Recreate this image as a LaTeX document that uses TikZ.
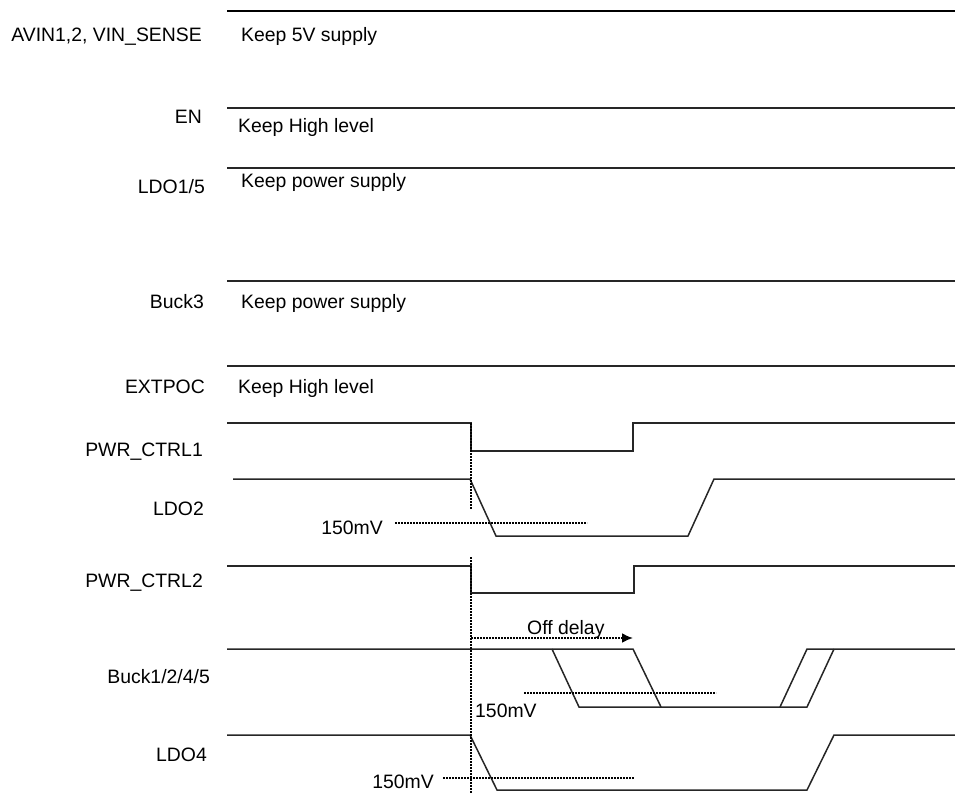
\documentclass[tikz,border=0pt]{standalone}
\usepackage{fontspec}
\setmainfont{Liberation Sans}
\usetikzlibrary{arrows.meta}

\begin{document}
\begin{tikzpicture}[x=1pt,y=-1pt,>={Latex[length=11pt,width=10pt]},
  font=\fontsize{19.4}{23}\selectfont,
  wave/.style={line width=1.5pt,black!85},
  thresh/.style={line width=2pt,dash pattern=on 2pt off 1pt},
  sig/.style={anchor=base east,inner sep=0pt},
  note/.style={anchor=base west,inner sep=0pt}]
 \useasboundingbox (0,0) rectangle (955,793);
 % rails that stay on
 \draw[line width=2.4pt] (227,11)--(955,11);
 \draw[wave] (227,108)--(955,108);
 \draw[wave] (227,168)--(955,168);
 \draw[wave] (227,281)--(955,281);
 \draw[wave] (227,366)--(955,366);
 % signal names
 \node[sig] (nAvin) at (202,41) {AVIN1,2, VIN\_SENSE};
 \node[sig] (nEn) at (202,123) {EN};
 \node[sig] (nLdoA) at (205,193) {LDO1/5};
 \node[sig] (nBuckC) at (204,308) {Buck3};
 \node[sig] (nExt) at (205,393) {EXTPOC};
 \node[sig] (nPwrA) at (203,456) {PWR\_CTRL1};
 \node[sig] (nLdoB) at (204,515) {LDO2};
 \node[sig] (nPwrB) at (203,587) {PWR\_CTRL2};
 \node[sig] (nBuck) at (210,683) {Buck1/2/4/5};
 \node[sig] (nLdoD) at (207,761) {LDO4};
 % notes on the rails
 \node[note] (kAvin) at (241,41) {Keep 5V supply};
 \node[note] (kEn) at (238,132) {Keep High level};
 \node[note] (kLdoA) at (241,187) {Keep power supply};
 \node[note] (kBuckC) at (241,308) {Keep power supply};
 \node[note] (kExt) at (238,393) {Keep High level};
 % PWR_CTRL1 and LDO2
 \draw[wave] (227,423)--(471,423)--(471,451)--(633,451)--(633,423)--(955,423);
 \draw[wave] (233,479)--(470,479)--(496,536)--(688,536)--(714,479)--(955,479);
 \draw[thresh] (395,523)--(587,523);
 \node[sig] (mLdoB) at (383,534) {150mV};
 % PWR_CTRL2
 \draw[wave] (227,566)--(471,566)--(471,593)--(634,593)--(634,566)--(955,566);
 % Buck1/2/4/5, two possible edges
 \draw[wave] (227,649)--(633,649)--(661,707);
 \draw[wave] (552,649)--(579,707)--(807,707)--(834,649);
 \draw[wave] (780,707)--(807,649)--(955,649);
 \draw[thresh] (524,693)--(716,693);
 \node[note] (mBuck) at (475,717) {150mV};
 % off delay
 \draw[thresh,->] (471,638)--(633,638);
 \node[note] (tOff) at (527,634) {Off delay};
 % LDO4
 \draw[wave] (227,735)--(470,735)--(497,790)--(807,790)--(834,735)--(955,735);
 \draw[thresh] (443,778)--(634,778);
 \node[sig] (mLdoD) at (434,788) {150mV};
 % power-off instant
 \draw[thresh] (471,423)--(471,509);
 \draw[thresh] (471,557)--(471,793);
\end{tikzpicture}
\end{document}
